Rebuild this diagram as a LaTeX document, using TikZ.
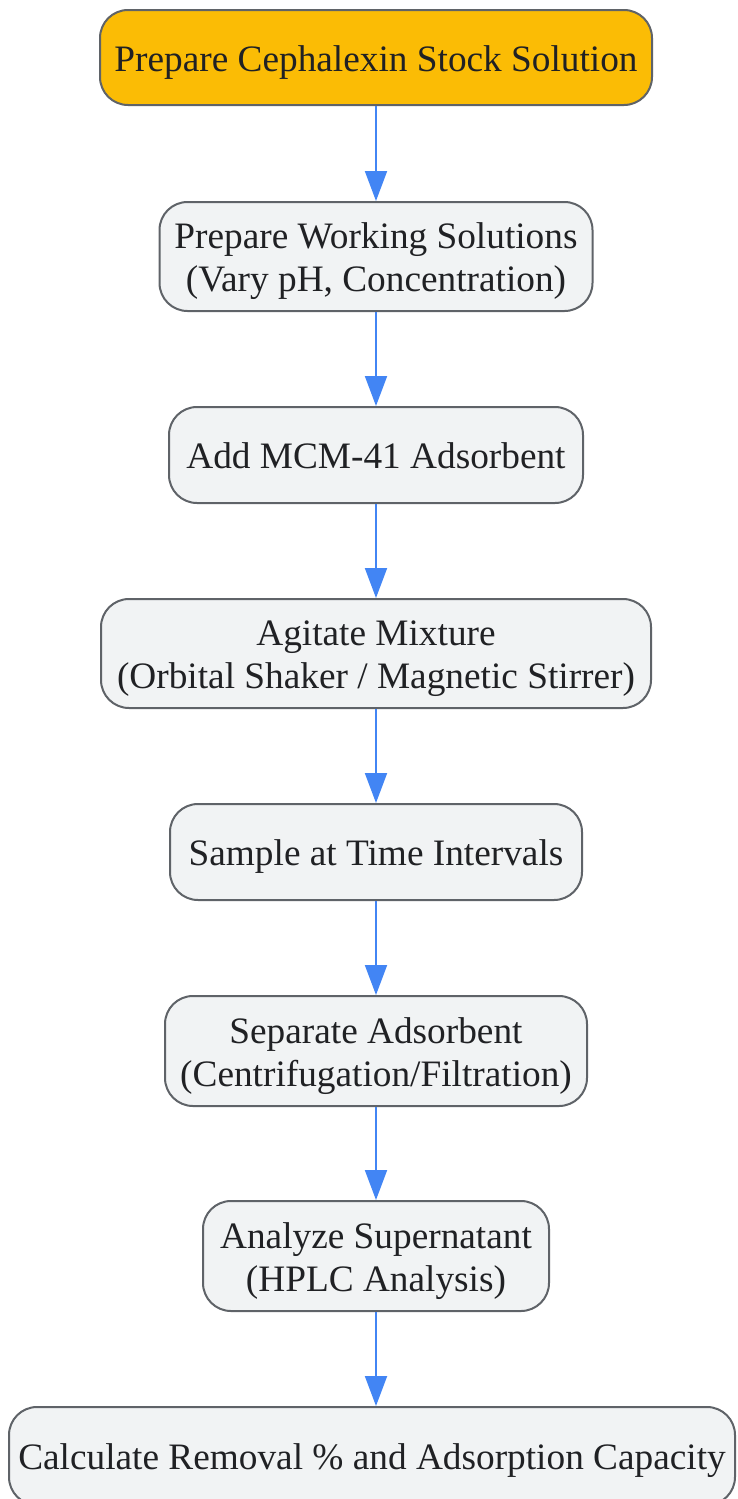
\documentclass[tikz,border=0pt]{standalone}
\usepackage{fontspec}
\setmainfont{Liberation Serif}
\usetikzlibrary{arrows.meta}
\definecolor{boxgray}{HTML}{F1F3F4}
\definecolor{boxyellow}{HTML}{FBBC05}
\definecolor{edgegray}{HTML}{5F6368}
\definecolor{arrblue}{HTML}{4285F4}
\definecolor{txt}{HTML}{202124}
\newcommand\mytopstrut{\rule{0pt}{37.5pt}}
\newcommand\mybotstrut{\rule[-10pt]{0pt}{10pt}}
\tikzset{
  stepbox/.style={draw=edgegray, line width=2pt, rounded corners=28pt, fill=boxgray,
    text=txt, align=center, inner sep=0pt, font=\fontsize{37.3}{43}\selectfont},
  startbox/.style={stepbox, fill=boxyellow},
  flow/.style={draw=arrblue, line width=2pt, -{Triangle[width=22pt,length=30pt]}}
}
\begin{document}
\begin{tikzpicture}[x=1pt,y=-1pt]
\useasboundingbox (0,0) rectangle (737,1499);
\node[startbox, minimum width=552pt, minimum height=95pt] (n1) at (376,57.5) {\mytopstrut Prepare Cephalexin Stock Solution\mybotstrut};
\node[stepbox, minimum width=433pt, minimum height=109pt] (n2) at (376,256.5) {\mytopstrut Prepare Working Solutions\\(Vary pH, Concentration)\mybotstrut};
\node[stepbox, minimum width=414pt, minimum height=96pt] (n3) at (376,455) {\mytopstrut Add MCM-41 Adsorbent\mybotstrut};
\node[stepbox, minimum width=550pt, minimum height=109pt] (n4) at (376,653.5) {\mytopstrut Agitate Mixture\\(Orbital Shaker / Magnetic Stirrer)\mybotstrut};
\node[stepbox, minimum width=412pt, minimum height=96pt] (n5) at (376,852) {\mytopstrut Sample at Time Intervals\mybotstrut};
\node[stepbox, minimum width=422pt, minimum height=110pt] (n6) at (376,1051) {\mytopstrut Separate Adsorbent\\(Centrifugation/Filtration)\mybotstrut};
\node[stepbox, minimum width=346pt, minimum height=110pt] (n7) at (376,1256) {\mytopstrut Analyze Supernatant\\(HPLC Analysis)\mybotstrut};
\node[stepbox, minimum width=726pt, minimum height=98pt] (n8) at (372,1456) {\mytopstrut Calculate Removal \% and Adsorption Capacity\mybotstrut};
\draw[flow] (n1) -- (n2);
\draw[flow] (n2) -- (n3);
\draw[flow] (n3) -- (n4);
\draw[flow] (n4) -- (n5);
\draw[flow] (n5) -- (n6);
\draw[flow] (n6) -- (n7);
\draw[flow] (n7.south) -- (n7.south |- n8.north);
\end{tikzpicture}
\end{document}
